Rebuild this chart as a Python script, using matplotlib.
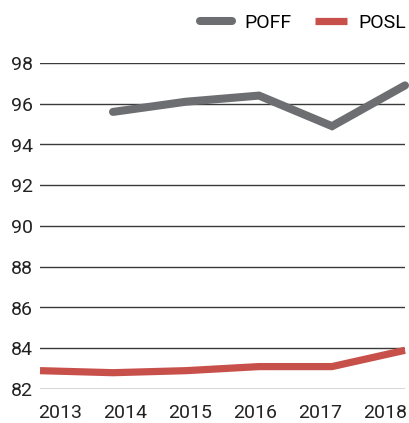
import numpy as np
import matplotlib.pyplot as plt

plt.rcParams['font.family'] = ['Roboto', 'DejaVu Sans']

# yearly values for the two series
years = [2013, 2014, 2015, 2016, 2017, 2018]
poff_years = [2014, 2015, 2016, 2017, 2018]
poff = [95.6, 96.1, 96.4, 94.9, 96.9]
posl = [82.9, 82.8, 82.9, 83.1, 83.1, 83.9]
yticks = [82, 84, 86, 88, 90, 92, 94, 96, 98]

fig = plt.figure(figsize=(4.09, 4.23), dpi=100)
ax = fig.add_axes([40 / 409, 34 / 423, 365 / 409, 326 / 423])

ax.plot(poff_years, poff, color='#6d6e71', lw=5.8, label='POFF',
        solid_capstyle='round', solid_joinstyle='miter', clip_on=False)
ax.plot(years, posl, color='#c8504b', lw=5.2, label='POSL',
        solid_capstyle='butt', solid_joinstyle='miter', clip_on=False)

ax.set_xlim(2013, 2018)
ax.set_ylim(82, 98)
ax.set_yticks(yticks)
ax.yaxis.grid(True, color='#3a3a3a', lw=1.0)
ax.set_axisbelow(True)

# year labels are spread evenly under the plot area
label_pos = 2013 + 20 / 73 + np.arange(len(years)) * 65 / 73
ax.set_xticks(label_pos)
ax.set_xticklabels([str(y) for y in years])

ax.tick_params(axis='both', length=0, labelsize=14, colors='#222222')
ax.tick_params(axis='x', pad=11)
ax.tick_params(axis='y', pad=5)
for s in ax.spines.values():
    s.set_visible(False)

ax.legend(loc='center right', bbox_to_anchor=(406 / 409, 1 - 23 / 423),
          bbox_transform=fig.transFigure, ncol=2, frameon=False,
          fontsize=14, handlelength=1.65, handletextpad=0.6,
          columnspacing=1.2, borderaxespad=0, borderpad=0)

fig.savefig('out.png', dpi=100)
